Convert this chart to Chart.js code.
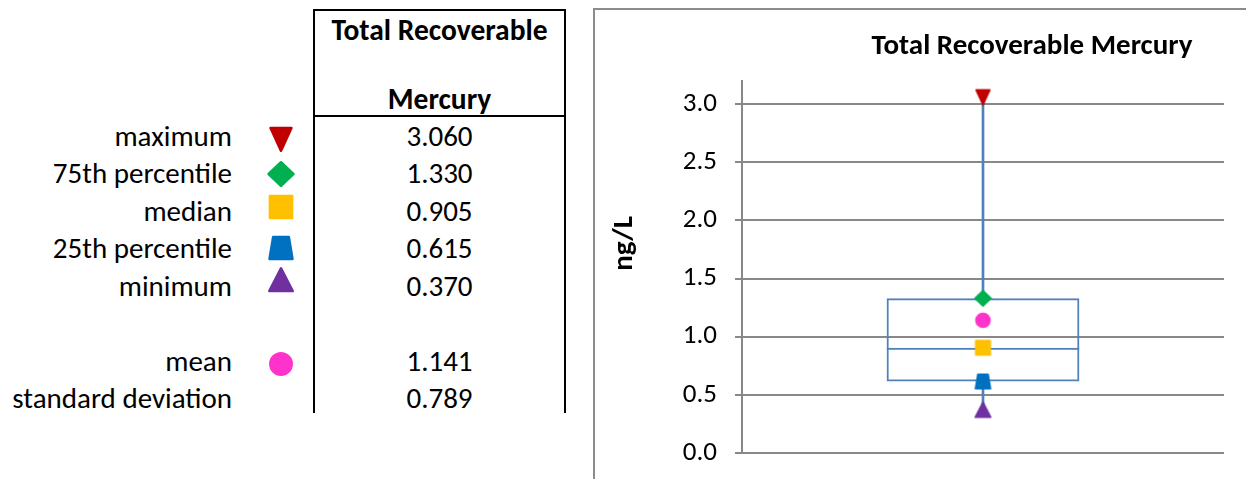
<!DOCTYPE html>
<html>
<head>
<meta charset="utf-8">
<script src="https://cdn.jsdelivr.net/npm/chart.js@4"></script>
<style>
    body {
        margin: 0;
        width: 1246px;
        height: 479px;
        overflow: hidden;
        background: #fff;
        position: relative;
        font-family: Carlito, Lato, sans-serif;
        color: #000;
    }
    #stats-box {
        position: absolute;
        left: 313px;
        top: 9px;
        width: 253px;
        height: 404px;
        box-sizing: border-box;
        border: 2px solid #000;
        border-bottom: none;
    }
    #stats-head {
        position: absolute;
        left: 0;
        right: 0;
        top: 0;
        height: 104px;
        border-bottom: 2px solid #000;
        font-weight: bold;
        font-size: 29.5px;
        text-align: center;
    }
    #stats-head div {
        position: absolute;
        left: 0;
        right: 0;
        line-height: 36px;
    }
    .row {
        position: absolute;
        left: 0;
        width: 566px;
        height: 37.5px;
        line-height: 37.5px;
        font-size: 29px;
    }
    .row .name {
        position: absolute;
        right: 334px;
        white-space: nowrap;
    }
    .row canvas {
        position: absolute;
        left: 267px;
    }
    .row .value {
        position: absolute;
        left: 314px;
        width: 251px;
        text-align: center;
    }
    #panel {
        position: absolute;
        left: 593px;
        top: 8px;
        width: 876px;
        height: 471px;
        box-sizing: border-box;
        border-left: 2px solid #8c8c8c;
        border-top: 2px solid #8c8c8c;
    }
    #chart-wrap {
        position: relative;
        width: 874px;
        height: 469px;
    }
</style>
</head>
<body>
<div id="stats-rows"></div>
<div id="stats-box">
    <div id="stats-head">
        <div style="top: 1px">Total Recoverable</div>
        <div style="top: 70px">Mercury</div>
    </div>
</div>
<div id="panel">
    <div id="chart-wrap"><canvas id="hg-chart"></canvas></div>
</div>

<script>
const seriesName = 'Total Recoverable Mercury';
const unitLabel = 'ng/L';

const statLabels = ['maximum', '75th percentile', 'median', '25th percentile', 'minimum', 'mean', 'standard deviation'];
const statValues = [3.060, 1.330, 0.905, 0.615, 0.370, 1.141, 0.789];
const markerShapes = ['triangleDown', 'diamond', 'square', 'trapezoid', 'triangle', 'circle', null];
const markerColors = ['#c00000', '#00b050', '#ffc000', '#0070c0', '#7030a0', '#ff33cc', null];

const [maximum, q3, median, q1, minimum, mean] = statValues;
const boxColor = '#4f81bd';
const gridColor = '#888888';
const fontStack = 'Carlito, Lato, sans-serif';

function drawMarker(ctx, shape, cx, cy, r, color) {
    ctx.fillStyle = color;
    ctx.strokeStyle = color;
    ctx.lineJoin = 'round';
    ctx.lineWidth = r * 0.2;
    ctx.beginPath();
    switch (shape) {
        case 'triangleDown':
            ctx.moveTo(cx - r * 0.8, cy - r * 0.85);
            ctx.lineTo(cx + r * 0.8, cy - r * 0.85);
            ctx.lineTo(cx, cy + r * 0.9);
            break;
        case 'triangle':
            ctx.moveTo(cx, cy - r * 0.9);
            ctx.lineTo(cx + r * 0.9, cy + r * 0.85);
            ctx.lineTo(cx - r * 0.9, cy + r * 0.85);
            break;
        case 'diamond':
            ctx.moveTo(cx, cy - r * 0.9);
            ctx.lineTo(cx + r * 0.95, cy);
            ctx.lineTo(cx, cy + r * 0.9);
            ctx.lineTo(cx - r * 0.95, cy);
            break;
        case 'square':
            ctx.rect(cx - r * 0.85, cy - r * 0.85, r * 1.7, r * 1.7);
            break;
        case 'trapezoid':
            ctx.moveTo(cx - r * 0.6, cy - r * 0.85);
            ctx.lineTo(cx + r * 0.6, cy - r * 0.85);
            ctx.lineTo(cx + r * 0.88, cy + r * 0.85);
            ctx.lineTo(cx - r * 0.88, cy + r * 0.85);
            break;
        case 'circle':
            ctx.arc(cx, cy, r * 0.92, 0, Math.PI * 2);
            break;
    }
    ctx.closePath();
    ctx.fill();
    if (shape !== 'circle') ctx.stroke();
}

function markerCanvas(shape, color, size) {
    const c = document.createElement('canvas');
    c.width = size;
    c.height = size;
    drawMarker(c.getContext('2d'), shape, size / 2, size / 2, size / 2 - 1, color);
    return c;
}

// stats table on the left
const rowsEl = document.getElementById('stats-rows');
const iconTops = [7.5, 4.5, 0.5, 4, -1.5, 7.5];
statLabels.forEach((label, i) => {
    const row = document.createElement('div');
    row.className = 'row';
    row.style.top = (117.5 + (i < 5 ? i : i + 1) * 37.5) + 'px';
    const name = document.createElement('span');
    name.className = 'name';
    name.textContent = label;
    row.appendChild(name);
    if (markerShapes[i]) {
        const icon = markerCanvas(markerShapes[i], markerColors[i], 28);
        icon.style.top = iconTops[i] + 'px';
        row.appendChild(icon);
    }
    const val = document.createElement('span');
    val.className = 'value';
    val.textContent = statValues[i].toFixed(3);
    row.appendChild(val);
    rowsEl.appendChild(row);
});

// box plot on the right
Chart.defaults.font.family = fontStack;
Chart.defaults.color = '#000';

// rotated unit label beside the value axis
const unitLabelPlugin = {
    id: 'unitLabel',
    afterDraw(chart, args, opts) {
        const { ctx, chartArea } = chart;
        ctx.save();
        ctx.translate(opts.x, (chartArea.top + chartArea.bottom) / 2 + opts.shift);
        ctx.rotate(-Math.PI / 2);
        ctx.font = 'bold 29px ' + fontStack;
        ctx.fillStyle = '#000';
        ctx.textAlign = 'center';
        ctx.textBaseline = 'middle';
        ctx.fillText(opts.text, 0, 0);
        ctx.restore();
    }
};

const markerSets = markerShapes.slice(0, 6).map((shape, i) => ({
    type: 'line',
    label: statLabels[i],
    data: [statValues[i]],
    showLine: false,
    pointStyle: markerCanvas(shape, markerColors[i], 19),
    order: 0
}));

new Chart(document.getElementById('hg-chart'), {
    type: 'bar',
    data: {
        labels: [seriesName],
        datasets: [
            ...markerSets,
            {
                label: 'interquartile box',
                data: [[q1, q3]],
                stack: 'box',
                backgroundColor: 'rgba(0,0,0,0)',
                borderColor: boxColor,
                borderWidth: 2,
                borderSkipped: false,
                categoryPercentage: 0.4,
                barPercentage: 1,
                order: 1
            },
            {
                label: 'median line',
                data: [[q1, median]],
                stack: 'box',
                backgroundColor: 'rgba(0,0,0,0)',
                borderColor: boxColor,
                borderWidth: { top: 2, right: 0, bottom: 0, left: 0 },
                borderSkipped: false,
                categoryPercentage: 0.4,
                barPercentage: 1,
                order: 1
            },
            {
                label: 'upper whisker',
                data: [[q3, maximum]],
                stack: 'box',
                backgroundColor: boxColor,
                borderWidth: 0,
                barThickness: 2,
                order: 2
            },
            {
                label: 'lower whisker',
                data: [[minimum, q1]],
                stack: 'box',
                backgroundColor: boxColor,
                borderWidth: 0,
                barThickness: 2,
                order: 2
            }
        ]
    },
    plugins: [unitLabelPlugin],
    options: {
        responsive: true,
        maintainAspectRatio: false,
        animation: false,
        layout: { autoPadding: false, padding: { left: 0, right: 0, top: 0, bottom: 26 } },
        plugins: {
            legend: { display: false },
            tooltip: { enabled: false },
            title: {
                display: true,
                text: seriesName,
                font: { size: 29, weight: 'bold' },
                padding: { top: 19.5, bottom: 16.5 }
            },
            unitLabel: { text: unitLabel, x: 30, shift: -23.5 }
        },
        scales: {
            x: { display: false, stacked: true },
            y: {
                stacked: false,
                min: 0,
                max: 3.2,
                ticks: {
                    stepSize: 0.5,
                    includeBounds: false,
                    padding: 18,
                    font: { size: 27 },
                    callback: v => v.toFixed(1)
                },
                grid: { color: gridColor, lineWidth: 2, tickLength: 7 },
                border: { color: gridColor, width: 2 },
                afterFit: scale => {
                    scale.width = 147;
                    scale.paddingTop = 0;
                    scale.paddingBottom = 0;
                }
            },
            // empty right-hand axis that keeps the plot clear of the panel's far side
            yRight: {
                position: 'right',
                min: 0,
                max: 3.2,
                ticks: { display: false },
                grid: { display: false },
                border: { display: false },
                afterFit: scale => { scale.width = 245; }
            }
        }
    }
});
</script>
</body>
</html>
